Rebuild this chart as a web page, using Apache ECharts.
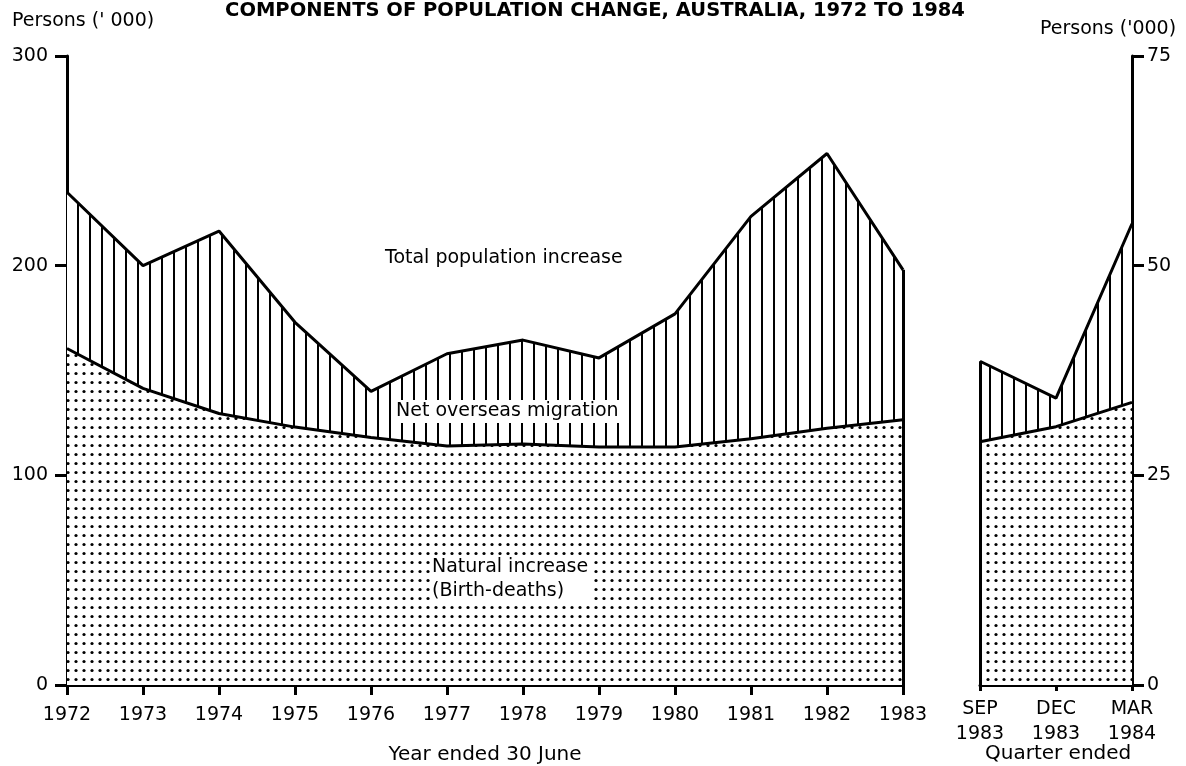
<!DOCTYPE html>
<html>
<head>
<meta charset="utf-8">
<script src="https://cdn.jsdelivr.net/npm/echarts@6/dist/echarts.min.js"></script>
<style>
	html, body { margin: 0; padding: 0; background: #fff; }
	#chart { width: 1186px; height: 766px; }
</style>
</head>
<body>
<div id="chart"></div>
<script>
	// annual data, year ended 30 June ('000 persons)
	const years = ['1972', '1973', '1974', '1975', '1976', '1977', '1978', '1979', '1980', '1981', '1982', '1983'];
	const totalIncrease = [235, 200, 216.5, 173, 140, 158, 164.5, 156, 177, 223.5, 253.5, 198];
	const naturalIncrease = [160.5, 141.5, 129.5, 123, 118, 114, 115, 113.5, 113.5, 117.5, 122.5, 126.5];

	// quarterly data ('000 persons)
	const quarters = ['SEP\n1983', 'DEC\n1983', 'MAR\n1984'];
	const quarterTotal = [38.6, 34.2, 55];
	const quarterNatural = [29, 30.8, 33.7];

	const leftTicks = [0, 100, 200, 300];
	const rightTicks = [0, 25, 50, 75];

	const font = '"DejaVu Sans", Verdana, sans-serif';

	function dotPattern() {
		const c = document.createElement('canvas');
		c.width = 8;
		c.height = 9;
		const ctx = c.getContext('2d');
		ctx.fillStyle = '#fff';
		ctx.fillRect(0, 0, 8, 9);
		ctx.fillStyle = '#000';
		ctx.beginPath();
		ctx.arc(4, 4.5, 1.6, 0, Math.PI * 2);
		ctx.fill();
		return { image: c, repeat: 'repeat' };
	}

	function stripePattern() {
		const c = document.createElement('canvas');
		c.width = 12;
		c.height = 12;
		const ctx = c.getContext('2d');
		ctx.fillStyle = '#fff';
		ctx.fillRect(0, 0, 12, 12);
		ctx.fillStyle = '#000';
		ctx.fillRect(5, 0, 2, 12);
		return { image: c, repeat: 'repeat' };
	}

	const migration = totalIncrease.map((t, i) => +(t - naturalIncrease[i]).toFixed(1));
	const quarterMigration = quarterTotal.map((t, i) => +(t - quarterNatural[i]).toFixed(1));

	const blackLine = { color: '#000', width: 3 };
	const edgeLine = {
		silent: true,
		symbol: 'none',
		label: { show: false },
		lineStyle: { color: '#000', width: 3, type: 'solid' },
		emphasis: { disabled: true }
	};
	const textBase = { fontFamily: font, fontSize: 19, fill: '#000' };

	const chart = echarts.init(document.getElementById('chart'));
	chart.setOption({
		backgroundColor: '#fff',
		animation: false,
		title: {
			text: 'COMPONENTS OF POPULATION CHANGE, AUSTRALIA, 1972 TO 1984',
			left: 590,
			textAlign: 'center',
			top: -4,
			textStyle: { fontFamily: font, fontSize: 19.5, fontWeight: 'bold', color: '#000' }
		},
		grid: [
			{ left: 67, right: 283, top: 56, bottom: 81, outerBoundsMode: 'none', containLabel: false },
			{ left: 980, right: 54, top: 56, bottom: 81, outerBoundsMode: 'none', containLabel: false }
		],
		xAxis: [
			{
				gridIndex: 0,
				type: 'category',
				data: years,
				boundaryGap: false,
				name: 'Year ended 30 June',
				nameLocation: 'middle',
				nameGap: 60,
				nameTextStyle: { fontFamily: font, fontSize: 20, color: '#000' },
				axisLine: { lineStyle: blackLine },
				axisTick: { length: 10, lineStyle: blackLine },
				axisLabel: { fontFamily: font, fontSize: 19, color: '#000', margin: 21 }
			},
			{
				gridIndex: 1,
				type: 'category',
				data: quarters,
				boundaryGap: false,
				axisLine: { lineStyle: blackLine },
				axisTick: { length: 6, lineStyle: blackLine },
				axisLabel: { fontFamily: font, fontSize: 19, color: '#000', margin: 12, lineHeight: 25 }
			}
		],
		yAxis: [
			{
				gridIndex: 0,
				type: 'value',
				min: leftTicks[0],
				max: leftTicks[leftTicks.length - 1],
				interval: 100,
				splitLine: { show: false },
				axisLine: { show: true, lineStyle: blackLine },
				axisTick: { show: true, length: 12, lineStyle: blackLine },
				axisLabel: { fontFamily: font, fontSize: 19, color: '#000', margin: 19 }
			},
			{
				gridIndex: 1,
				type: 'value',
				position: 'right',
				min: rightTicks[0],
				max: rightTicks[rightTicks.length - 1],
				interval: 25,
				splitLine: { show: false },
				axisLine: { show: true, lineStyle: blackLine },
				axisTick: { show: true, length: 12, lineStyle: blackLine },
				axisLabel: { fontFamily: font, fontSize: 19, color: '#000', margin: 15 }
			}
		],
		graphic: [
			{ type: 'text', left: 12, top: 12, z: 100, style: Object.assign({ text: "Persons (' 000)" }, textBase) },
			{ type: 'text', left: 1040, top: 20, z: 100, style: Object.assign({ text: "Persons ('000)" }, textBase) },
			{ type: 'text', left: 985, top: 744, z: 100, style: Object.assign({ text: 'Quarter ended' }, textBase, { fontSize: 20 }) },
			{ type: 'text', left: 385, top: 249, z: 100, style: Object.assign({ text: 'Total population increase' }, textBase) },
			{ type: 'text', left: 393, top: 400, z: 100, style: Object.assign({ text: 'Net overseas migration', backgroundColor: '#fff', padding: [2, 3] }, textBase) },
			{ type: 'text', left: 430, top: 555, z: 100, style: Object.assign({ text: 'Natural increase\n(Birth-deaths)', lineHeight: 24, backgroundColor: '#fff', padding: [0, 2] }, textBase) }
		],
		series: [
			{
				name: 'Natural increase',
				type: 'line',
				xAxisIndex: 0,
				yAxisIndex: 0,
				stack: 'annual',
				data: naturalIncrease,
				symbol: 'none',
				lineStyle: blackLine,
				areaStyle: { color: dotPattern(), opacity: 1 },
				z: 3
			},
			{
				name: 'Net overseas migration',
				type: 'line',
				xAxisIndex: 0,
				yAxisIndex: 0,
				stack: 'annual',
				data: migration,
				symbol: 'none',
				lineStyle: blackLine,
				areaStyle: { color: stripePattern(), opacity: 1 },
				z: 2,
				markLine: Object.assign({
					data: [[{ coord: [years[years.length - 1], 0] }, { coord: [years[years.length - 1], totalIncrease[totalIncrease.length - 1]] }]]
				}, edgeLine)
			},
			{
				name: 'Natural increase (quarter)',
				type: 'line',
				xAxisIndex: 1,
				yAxisIndex: 1,
				stack: 'quarter',
				data: quarterNatural,
				symbol: 'none',
				lineStyle: blackLine,
				areaStyle: { color: dotPattern(), opacity: 1 },
				z: 3
			},
			{
				name: 'Net overseas migration (quarter)',
				type: 'line',
				xAxisIndex: 1,
				yAxisIndex: 1,
				stack: 'quarter',
				data: quarterMigration,
				symbol: 'none',
				lineStyle: blackLine,
				areaStyle: { color: stripePattern(), opacity: 1 },
				z: 2,
				markLine: Object.assign({
					data: [[{ coord: [quarters[0], 0] }, { coord: [quarters[0], quarterTotal[0]] }]]
				}, edgeLine)
			}
		]
	});
</script>
</body>
</html>
